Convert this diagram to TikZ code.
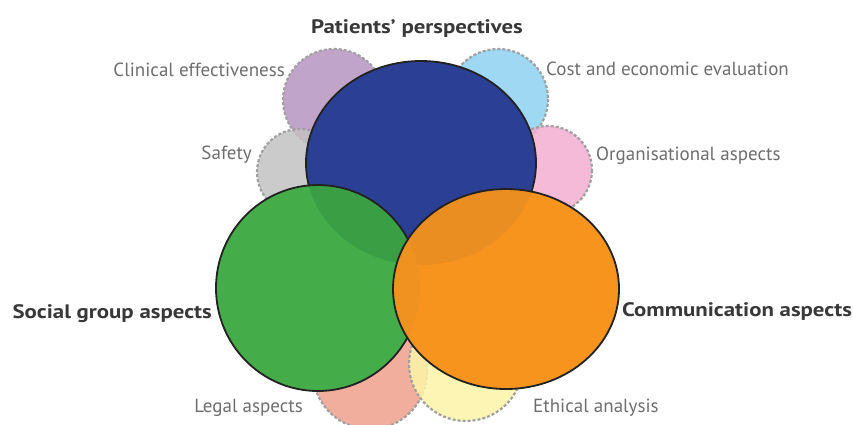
\documentclass[tikz,border=0pt]{standalone}
\usepackage{fontspec}
\setmainfont{PT Sans}
\newfontfamily\boldlabfont[FakeStretch=1.17]{PT Sans Bold}
\definecolor{cblue}{HTML}{2B3F94}
\definecolor{cgreen}{HTML}{45AC4A}
\definecolor{cgreenb}{HTML}{3A9E45}
\definecolor{corange}{HTML}{F7941D}
\definecolor{corangeb}{HTML}{EB8E22}
\definecolor{corangeg}{HTML}{F09220}
\definecolor{cpurple}{HTML}{B595C0}
\definecolor{clblue}{HTML}{8ED2F2}
\definecolor{cgray}{HTML}{C4C2C2}
\definecolor{cpink}{HTML}{F4AFD0}
\definecolor{csalmon}{HTML}{EFA08C}
\definecolor{cyellow}{HTML}{FDF4A8}
\definecolor{ctext}{HTML}{6E6E6E}
\definecolor{cbold}{HTML}{383838}
\definecolor{cdash}{HTML}{A0A0A0}
\definecolor{cline}{HTML}{222222}
\begin{document}
\begin{tikzpicture}[x=1pt,y=-1pt,
  minor/.style={fill opacity=0.85, draw=cdash, line width=2.2pt, dash pattern=on 3pt off 2pt},
  majorline/.style={draw=cline, line width=1.8pt},
  lab/.style={font=\fontsize{19}{22}\selectfont, text=ctext, inner sep=0pt},
  blab/.style={font=\fontsize{19.5}{22}\boldlabfont, text=cbold, inner sep=0pt}]
\useasboundingbox (0,0) rectangle (853,424);
\fill[white] (0,0) rectangle (853,424);
% minor circles
\draw[minor, fill=cpurple] (334,100) circle (51);
\draw[minor, fill=cgray] (300,172) circle (43);
\draw[minor, fill=clblue] (498,99) circle (50);
\draw[minor, fill=cpink] (548,170) circle (44);
\draw[minor, fill=csalmon] (370,372) circle (57);
\draw[minor, fill=cyellow] (466,364) circle (57);
% blue
\fill[cblue] (421,163) ellipse (115 and 102);
\draw[majorline] (421,163) ellipse (115 and 102);
% green
\fill[cgreen] (318,288) ellipse (102 and 103);
\begin{scope}
  \clip (421,163) ellipse (115 and 102);
  \fill[cgreenb] (318,288) ellipse (102 and 103);
\end{scope}
\draw[majorline] (318,288) ellipse (102 and 103);
% orange
\fill[corange] (506,289) ellipse (113 and 100);
\begin{scope}
  \clip (506,289) ellipse (113 and 100);
  \begin{scope}
    \clip (421,163) ellipse (115 and 102);
    \fill[corangeb] (506,289) ellipse (113 and 100);
  \end{scope}
  \begin{scope}
    \clip (318,288) ellipse (102 and 103);
    \fill[corangeg] (506,289) ellipse (113 and 100);
  \end{scope}
\end{scope}
\draw[majorline] (506,289) ellipse (113 and 100);
% labels
\node[blab, anchor=base] (pp) at (417,33) {Patients’ perspectives};
\node[lab, anchor=base east] (ce) at (285,76) {Clinical effectiveness};
\node[lab, anchor=base west] (co) at (546,75) {Cost and economic evaluation};
\node[lab, anchor=base east] (sa) at (252,159) {Safety};
\node[lab, anchor=base west] (oa) at (596,160) {Organisational aspects};
\node[blab, anchor=base east] (sg) at (212,318) {Social group aspects};
\node[blab, anchor=base west] (ca) at (622,316) {Communication aspects};
\node[lab, anchor=base east] (la) at (303,412) {Legal aspects};
\node[lab, anchor=base west] (ea) at (533,412) {Ethical analysis};
\end{tikzpicture}
\end{document}
